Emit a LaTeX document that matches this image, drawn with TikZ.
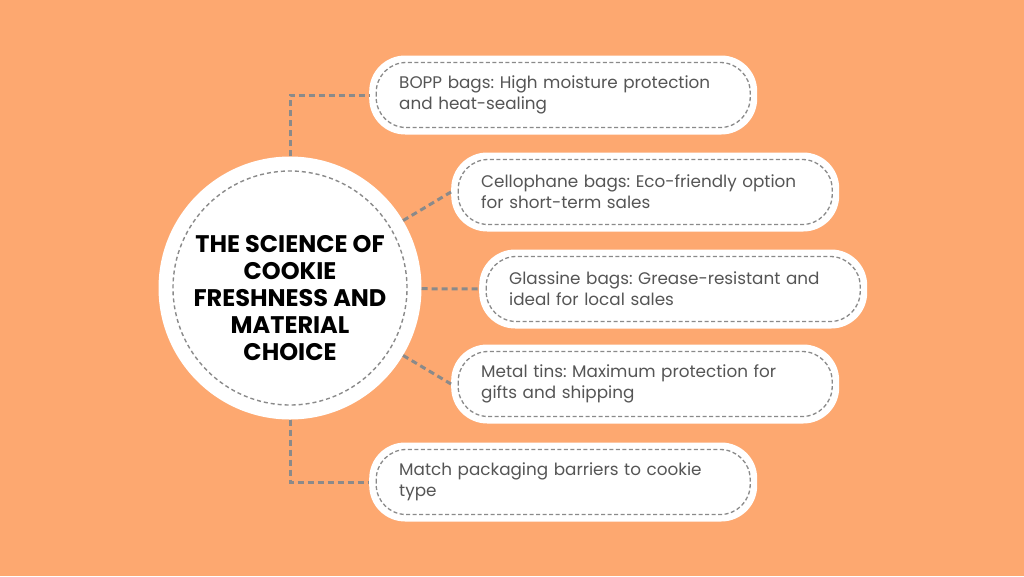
\documentclass[tikz,border=0pt]{standalone}
\usepackage{fontspec}
\setmainfont{Poppins}
\definecolor{cookieorange}{RGB}{253, 168, 112}
\definecolor{dashgray}{RGB}{138, 138, 138}
\definecolor{textgray}{RGB}{85, 85, 85}
\usepackage{tikz}
\usetikzlibrary{positioning}
\frenchspacing

\begin{document}
\begin{tikzpicture}[
        x=1pt, y=-1pt,
        hub/.style={circle, fill=white, minimum size=263pt, inner sep=0pt,
                    path picture={\draw[dashgray, line width=1.4pt, dash pattern=on 4pt off 3pt]
                      (path picture bounding box.center) circle (117pt);}},
        itembox/.style={rectangle, rounded corners=36pt, fill=white, anchor=west,
                    text width=328pt, inner xsep=30pt, inner ysep=0pt,
                    minimum height=79pt, align=left, text=textgray,
                    font=\fontsize{16.8}{21}\selectfont,
                    path picture={\draw[dashgray, line width=1.3pt, dash pattern=on 4pt off 2.5pt, rounded corners=30pt]
                      ([xshift=7pt,yshift=-7pt]path picture bounding box.north west) rectangle
                      ([xshift=-7pt,yshift=7pt]path picture bounding box.south east);}},
        link/.style={dashgray, line width=3pt, dash pattern=on 6pt off 4pt}
      ]
        \useasboundingbox (0,0) rectangle (1024,576);
        \fill[cookieorange] (0,0) rectangle (1024,576);
        \node[hub] (hub) at (290,288) {};
        \node[align=center, font=\fontsize{24}{27}\selectfont\bfseries] (title) at (290,298)
          {THE SCIENCE OF\\COOKIE\\FRESHNESS AND\\MATERIAL\\CHOICE};
        \node[itembox] (bopp) at (369,95) {BOPP bags: High moisture protection\\and heat-sealing};
        \node[itembox] (cello) at (451,192) {Cellophane bags: Eco-friendly option\\for short-term sales};
        \node[itembox] (glass) at (479,289) {Glassine bags: Grease-resistant and\\ideal for local sales};
        \node[itembox] (metal) at (451,384) {Metal tins: Maximum protection for\\gifts and shipping};
        \node[itembox] (match) at (369,482) {Match packaging barriers to cookie\\type};
        \draw[link] (hub.north) |- (bopp.west);
        \draw[link] (hub) -- (cello.west);
        \draw[link] (hub) -- (glass.west);
        \draw[link] (hub) -- (metal.west);
        \draw[link] (hub.south) |- (match.west);
      \end{tikzpicture}
\end{document}
